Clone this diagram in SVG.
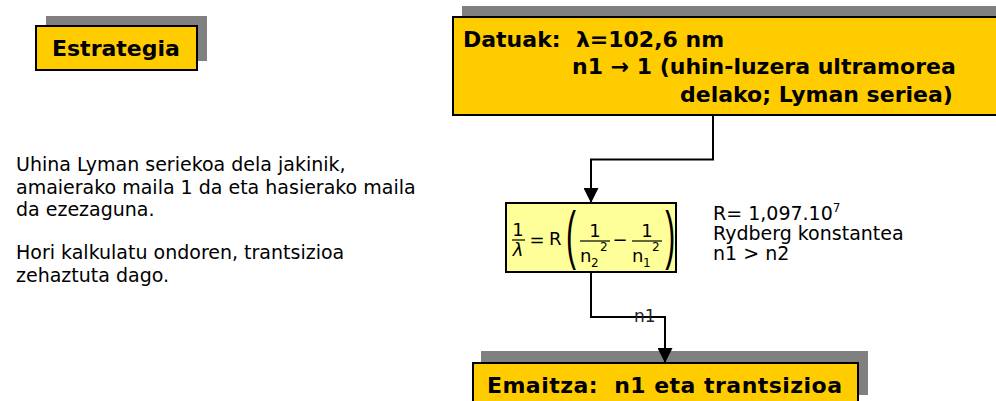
<svg xmlns="http://www.w3.org/2000/svg" width="996" height="401" viewBox="0 0 996 401">
  <style>
    .shadow { fill: #808080; }
    .box { fill: #FFCC00; stroke: #000; stroke-width: 2; }
    .fbox { fill: #FFFF99; stroke: #000; stroke-width: 2; }
    .head { font-family: "DejaVu Sans", Verdana, sans-serif; font-weight: bold; font-size: 22px; fill: #000; white-space: pre; }
    .body { font-family: "DejaVu Sans", Verdana, sans-serif; font-size: 19px; fill: #000; }
    .math { font-family: "DejaVu Sans", Verdana, sans-serif; font-size: 18px; fill: #000; }
    .paren { font-family: "Liberation Sans", Arial, sans-serif; font-size: 30px; fill: #000; }
    .idx { font-family: "DejaVu Sans", Verdana, sans-serif; font-size: 12px; fill: #000; }
    .conn { fill: none; stroke: #000; stroke-width: 2; }
    .frac { stroke: #000; stroke-width: 1.2; }
  </style>
  <defs>
    <marker id="arrow" markerUnits="userSpaceOnUse" markerWidth="15" markerHeight="15" refX="15" refY="7.5" orient="auto">
      <path d="M0,0 L15,7.5 L0,15 Z" fill="#000"/>
    </marker>
  </defs>

  <rect width="996" height="401" fill="#fff"/>

  <!-- Strategy heading -->
  <g id="node-estrategia">
    <rect class="shadow" x="46" y="16" width="161" height="45"/>
    <rect class="box" x="36" y="26" width="161" height="44"/>
    <text class="head" x="52" y="56">Estrategia</text>
  </g>

  <!-- Explanation paragraph -->
  <g id="text-explanation">
    <text class="body" x="16" y="171">Uhina Lyman seriekoa dela jakinik,</text>
    <text class="body" x="16" y="194">amaierako maila 1 da eta hasierako maila</text>
    <text class="body" x="16" y="216">da ezezaguna.</text>
    <text class="body" x="16" y="259">Hori kalkulatu ondoren, trantsizioa</text>
    <text class="body" x="16" y="282">zehaztuta dago.</text>
  </g>

  <!-- Given data -->
  <g id="node-datuak">
    <rect class="shadow" x="462" y="6" width="540" height="98"/>
    <rect class="box" x="453" y="17" width="550" height="98"/>
    <text class="head" x="463" y="47" xml:space="preserve">Datuak:  λ=102,6 nm</text>
    <text class="head" x="572" y="74">n1 → 1 (uhin-luzera ultramorea</text>
    <text class="head" x="680" y="102">delako; Lyman seriea)</text>
  </g>

  <!-- Rydberg formula -->
  <g id="node-formula">
    <rect class="fbox" x="506" y="203" width="170" height="69"/>
    <text class="math" x="518" y="236" text-anchor="middle">1</text>
    <line class="frac" x1="512" y1="240" x2="525" y2="240"/>
    <text class="math" x="518" y="256" text-anchor="middle" font-style="italic">λ</text>
    <text class="math" x="537" y="246" text-anchor="middle">=</text>
    <text class="math" x="549" y="245">R</text>
    <text class="paren" transform="translate(565.9,257) scale(1,2.15)">(</text>
    <text class="math" x="595" y="237" text-anchor="middle">1</text>
    <line class="frac" x1="580" y1="241" x2="610" y2="241"/>
    <text class="math" x="580" y="262">n</text>
    <text class="idx" x="591" y="267">2</text>
    <text class="idx" x="600" y="251">2</text>
    <text class="math" x="620" y="246" text-anchor="middle">−</text>
    <text class="math" x="647" y="237" text-anchor="middle">1</text>
    <line class="frac" x1="632" y1="241" x2="662" y2="241"/>
    <text class="math" x="632" y="262">n</text>
    <text class="idx" x="643" y="267">1</text>
    <text class="idx" x="652" y="251">2</text>
    <text class="paren" transform="translate(665.2,257) scale(1,2.15)">)</text>
  </g>

  <!-- Constant notes -->
  <g id="text-constant">
    <text class="body" x="713" y="220">R= 1,097.10<tspan font-size="12" dy="-8">7</tspan></text>
    <text class="body" x="713" y="240">Rydberg konstantea</text>
    <text class="body" x="713" y="260">n1 &gt; n2</text>
  </g>

  <!-- Result -->
  <g id="node-emaitza">
    <rect class="shadow" x="481" y="351" width="387" height="44"/>
    <rect class="box" x="473" y="363" width="385" height="44"/>
    <text class="head" x="487" y="393" xml:space="preserve" textLength="355" lengthAdjust="spacing">Emaitza:  n1 eta trantsizioa</text>
  </g>

  <!-- Connectors -->
  <g id="connectors">
    <path class="conn" d="M713,116 V159.5 H591 V203" marker-end="url(#arrow)"/>
    <path class="conn" d="M591,272 V317 H665 V363" marker-end="url(#arrow)"/>
    <text x="634" y="322" font-family="'DejaVu Sans', Verdana, sans-serif" font-size="17" fill="#222">n1</text>
  </g>
</svg>
